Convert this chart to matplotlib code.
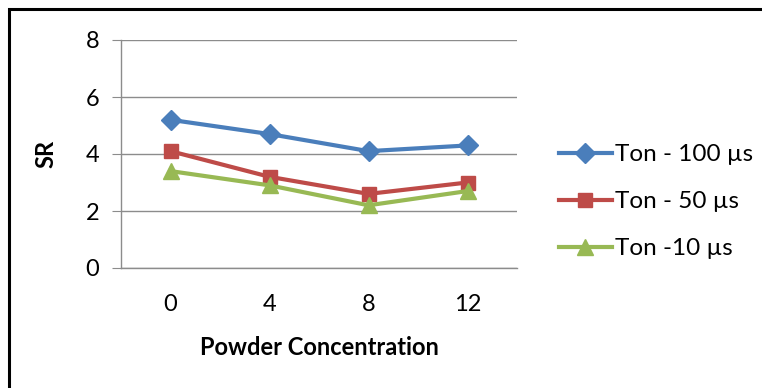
import matplotlib
matplotlib.use("Agg")
import matplotlib.pyplot as plt
from matplotlib.patches import Rectangle

# powder concentration categories and surface roughness per pulse-on time
concentration = ["0", "4", "8", "12"]
sr_ton_100 = [5.2, 4.7, 4.1, 4.3]
sr_ton_50 = [4.1, 3.2, 2.6, 3.0]
sr_ton_10 = [3.4, 2.9, 2.2, 2.7]
y_ticks = [0, 2, 4, 6, 8]

series = [
    ("Ton - 100 µs", sr_ton_100, "#4A7EBB", "D", 10.5),
    ("Ton - 50 µs", sr_ton_50, "#BE4B48", "s", 10.5),
    ("Ton -10 µs", sr_ton_10, "#98B954", "^", 11.5),
]

plt.rcParams["font.family"] = ["Lato", "DejaVu Sans"]

W, H = 762, 388
fig = plt.figure(figsize=(W / 100, H / 100), dpi=100)
ax = fig.add_axes([121 / W, 1 - 268 / H, (517 - 121) / W, (268 - 40) / H])

x = list(range(len(concentration)))
for label, vals, color, marker, ms in series:
    ax.plot(x, vals, color=color, lw=3, marker=marker, markersize=ms,
            label=label, solid_joinstyle="round")

ax.set_xlim(-0.5, len(concentration) - 0.5)
ax.set_ylim(0, 8)
ax.set_yticks(y_ticks)
ax.set_xticks(x)
ax.set_xticklabels(concentration)
ax.grid(axis="y", color="#8C8C8C", lw=1)
ax.set_axisbelow(True)

for side in ("top", "right"):
    ax.spines[side].set_visible(False)
for side in ("left", "bottom"):
    ax.spines[side].set_color("#8C8C8C")
    ax.spines[side].set_linewidth(1)

ax.tick_params(axis="y", length=6.5, color="#8C8C8C", labelsize=17, pad=9)
ax.tick_params(axis="x", length=0, labelsize=17, pad=19)

ax.set_xlabel("Powder Concentration", fontsize=17, fontweight="bold", labelpad=15)
ax.set_ylabel("SR", fontsize=17, fontweight="bold", labelpad=20)

ax.legend(loc="center left", bbox_to_anchor=(1.05, 0.29), frameon=False,
          fontsize=17.5, handlelength=2.2, handletextpad=0.1, labelspacing=1.07)

# chart border
fig.add_artist(Rectangle((9 / W, -0.1), 1.2, 1.1 - 9 / H, transform=fig.transFigure,
                         fill=False, edgecolor="black", lw=2.2))

fig.savefig("out.png", dpi=100)
